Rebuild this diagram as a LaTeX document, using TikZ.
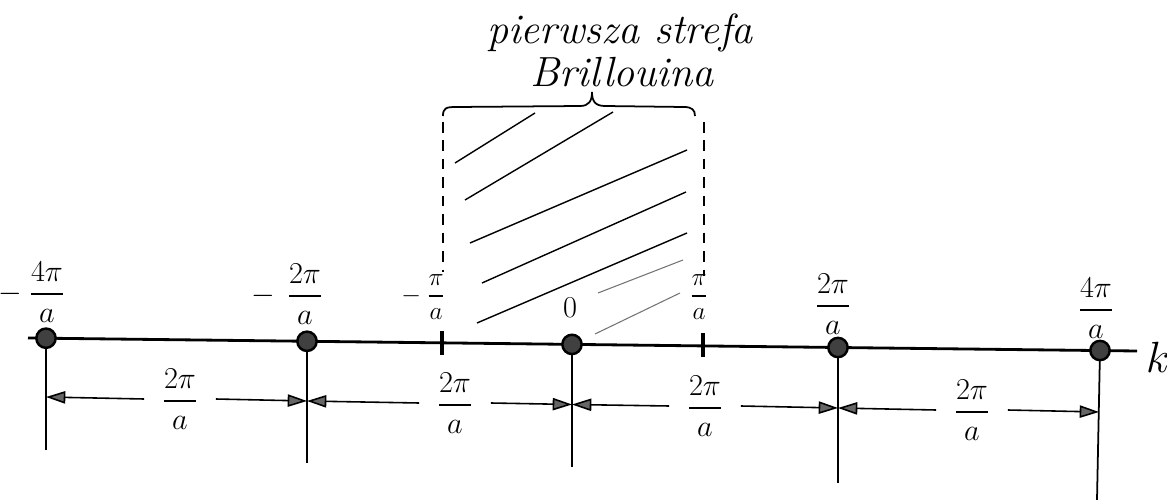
\documentclass[tikz,border=0pt]{standalone}
\usepackage{amsmath}
\usetikzlibrary{arrows.meta}
\begin{document}
\begin{tikzpicture}[x=0.02cm,y=-0.02cm,
  dot/.style={circle,draw,fill=black!75,line width=1.4pt,minimum size=11pt,inner sep=0pt},
  axisline/.style={line width=1.6pt},
  vline/.style={line width=1pt},
  tickmark/.style={line width=2pt},
  dimline/.style={line width=0.9pt,-{Triangle[length=11pt,width=7pt,fill=black!60]}},
  dashline/.style={line width=1pt,dash pattern=on 6pt off 4.5pt},
  hatch/.style={line width=0.8pt},
  faint/.style={line width=0.6pt,black!55},
  toplab/.style={font=\fontsize{16}{18}\selectfont, inner sep=0pt},
  smalllab/.style={font=\fontsize{15}{17}\selectfont, inner sep=0pt},
  dimlab/.style={font=\fontsize{16}{18}\selectfont, inner xsep=10pt, inner ysep=0pt},
  titlelab/.style={font=\fontsize{24}{28}\selectfont\itshape, inner sep=0pt}
]
\useasboundingbox (0,0) rectangle (1167,500);

% axis
\coordinate (aL) at (28,338);
\coordinate (aR) at (1137,351);
\draw[axisline] (aL) -- (aR);
\node[font=\fontsize{28}{30}\selectfont, inner sep=0pt] (k) at (1158,357) {$k$};

% hatching of first Brillouin zone
\coordinate (h1a) at (455,163); \coordinate (h1b) at (535,113);
\coordinate (h2a) at (465,200); \coordinate (h2b) at (613,112);
\coordinate (h3a) at (470,243); \coordinate (h3b) at (687,150);
\coordinate (h4a) at (482,283); \coordinate (h4b) at (686,192);
\coordinate (h5a) at (477,323); \coordinate (h5b) at (687,233);
\coordinate (h6a) at (598,293); \coordinate (h6b) at (683,260);
\coordinate (h7a) at (595,334); \coordinate (h7b) at (680,293);
\draw[hatch] (h1a) -- (h1b);
\draw[hatch] (h2a) -- (h2b);
\draw[hatch] (h3a) -- (h3b);
\draw[hatch] (h4a) -- (h4b);
\draw[hatch] (h5a) -- (h5b);
\draw[faint] (h6a) -- (h6b);
\draw[faint] (h7a) -- (h7b);

% dashed zone boundaries
\coordinate (dl1) at (443,122); \coordinate (dl2) at (443,272);
\coordinate (dr1) at (704,122); \coordinate (dr2) at (704,276);
\draw[dashline] (dl1) -- (dl2);
\draw[dashline] (dr1) -- (dr2);

% brace
\coordinate (bl) at (443,116); \coordinate (bt) at (592,92); \coordinate (br) at (695,116);
\draw[line width=1pt] (bl) .. controls (443,108) and (446,107) .. (456,107)
  -- (580,106) .. controls (589,106) and (592,101) .. (bt)
  .. controls (592,101) and (595,106) .. (605,106)
  -- (684,107) .. controls (692,107) and (695,110) .. (br);

% title
\node[titlelab] (t1) at (620,33) {pierwsza strefa};
\node[titlelab] (t2) at (622,72) {Brillouina};

% ticks at +-pi/a
\coordinate (tl1) at (442,331); \coordinate (tl2) at (442,355);
\coordinate (tr1) at (703,333); \coordinate (tr2) at (703,357);
\draw[tickmark] (tl1) -- (tl2);
\draw[tickmark] (tr1) -- (tr2);

% vertical lines
\coordinate (b0) at (46,450);
\coordinate (b1) at (307,463);
\coordinate (b2) at (572,467);
\coordinate (b3) at (838,483);
\coordinate (b4) at (1097,500);
\coordinate (c0) at (46,338.2);
\coordinate (c1) at (307,341.3);
\coordinate (c2) at (572,344.4);
\coordinate (c3) at (838,347.5);
\coordinate (c4) at (1100,350.5);
\draw[vline] (c0) -- (b0);
\draw[vline] (c1) -- (b1);
\draw[vline] (c2) -- (b2);
\draw[vline] (c3) -- (b3);
\draw[vline] (c4) -- (b4);

% lattice points
\node[dot] (p0) at (c0) {};
\node[dot] (p1) at (c1) {};
\node[dot] (p2) at (c2) {};
\node[dot] (p3) at (c3) {};
\node[dot] (p4) at (c4) {};

% top labels
\node[toplab] (lm4) at (47,292) {\llap{$-$\hspace{4pt}}$\dfrac{4\pi}{a}$};
\node[toplab] (lm2) at (305,294) {\llap{$-$\hspace{7pt}}$\dfrac{2\pi}{a}$};
\node[smalllab] (lm1) at (436,297) {\llap{$-$\hspace{3pt}}$\dfrac{\pi}{a}$};
\node[font=\fontsize{16}{18}\selectfont, inner sep=0pt] (l0) at (570,308) {$0$};
\node[smalllab] (lp1) at (699,297) {$\dfrac{\pi}{a}$};
\node[toplab] (lp2) at (833,304) {$\dfrac{2\pi}{a}$};
\node[toplab] (lp4) at (1096,308) {$\dfrac{4\pi}{a}$};

% dimension lines
\coordinate (d0) at (46,397);
\coordinate (d1) at (307,401);
\coordinate (d2) at (572,404.5);
\coordinate (d3) at (838,408);
\coordinate (d4) at (1099,412);
\node[dimlab] (L1) at (180,399) {$\dfrac{2\pi}{a}$};
\node[dimlab] (L2) at (455,403) {$\dfrac{2\pi}{a}$};
\node[dimlab] (L3) at (705,406) {$\dfrac{2\pi}{a}$};
\node[dimlab] (L4) at (972,410) {$\dfrac{2\pi}{a}$};
\draw[dimline] (L1.west) -- (d0);
\draw[dimline] (L1.east) -- (d1);
\draw[dimline] (L2.west) -- (d1);
\draw[dimline] (L2.east) -- (d2);
\draw[dimline] (L3.west) -- (d2);
\draw[dimline] (L3.east) -- (d3);
\draw[dimline] (L4.west) -- (d3);
\draw[dimline] (L4.east) -- (d4);
\end{tikzpicture}
\end{document}
